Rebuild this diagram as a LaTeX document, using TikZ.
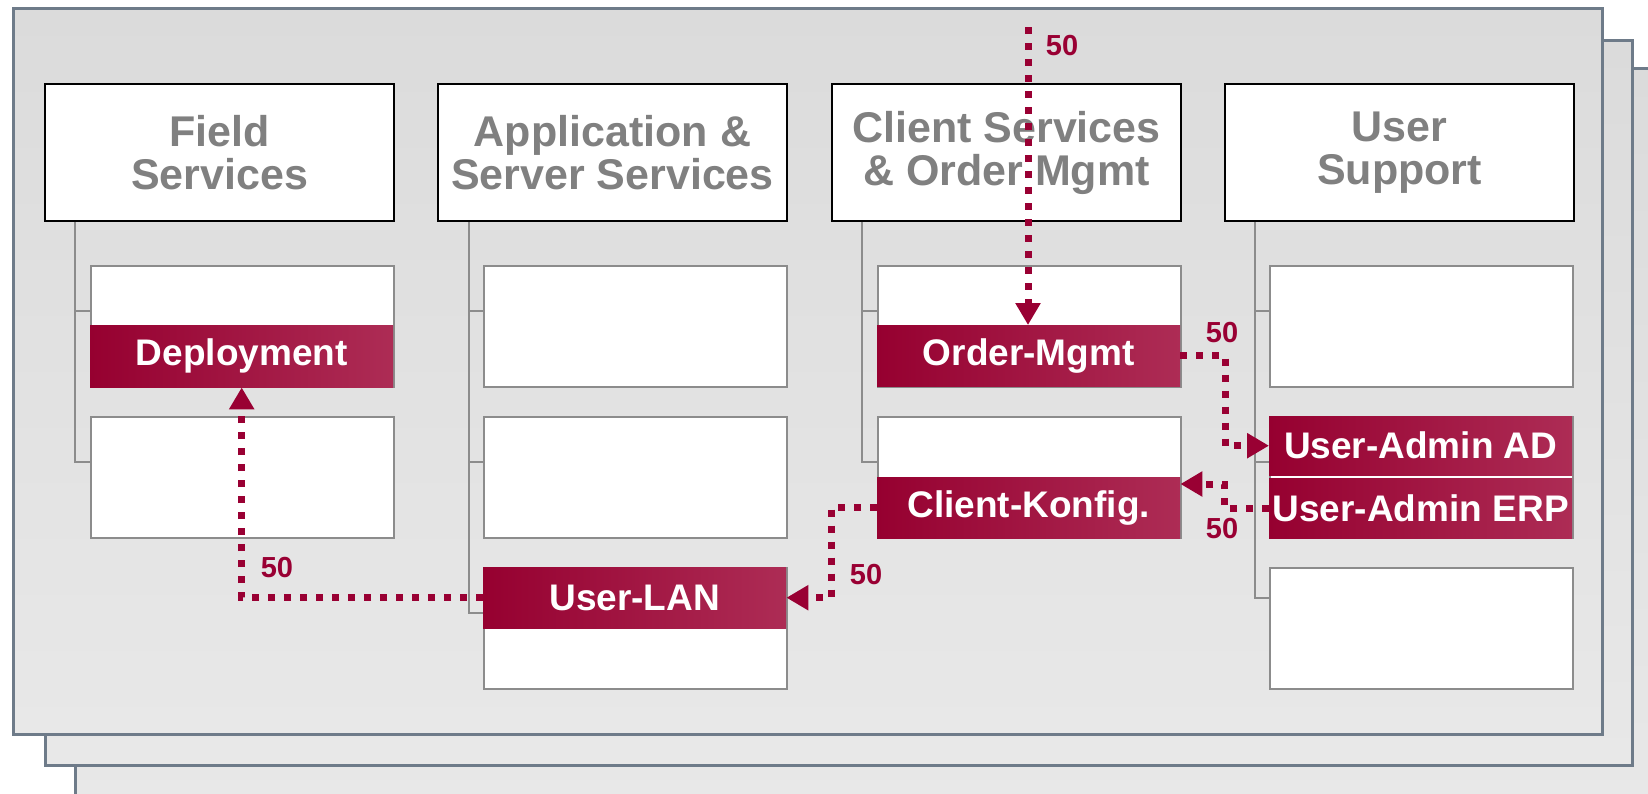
\documentclass[tikz,border=0pt]{standalone}
\usepackage{fontspec}
\setmainfont{Liberation Sans}
\usetikzlibrary{positioning,arrows.meta}
\definecolor{framegray}{HTML}{6E7B89}
\definecolor{fillA}{HTML}{DBDBDB}
\definecolor{fillB}{HTML}{E8E8E8}
\definecolor{headgray}{HTML}{808080}
\definecolor{subgray}{HTML}{8C8C8C}
\definecolor{bandA}{HTML}{960030}
\definecolor{bandB}{HTML}{AD2C55}
\definecolor{dotred}{HTML}{990033}
\newcommand{\headfont}{\fontsize{43}{43}\selectfont\bfseries}
\newcommand{\bandfont}{\fontsize{37}{37}\selectfont\bfseries}

\begin{document}
\begin{tikzpicture}[x=1pt,y=-1pt,
  frame/.style={draw=framegray,line width=3,top color=fillA,bottom color=fillB},
  head/.style={draw=black,line width=2,fill=white,anchor=north west,minimum width=349,minimum height=137,inner sep=0,align=center,text=headgray,font=\headfont},
  sub/.style={draw=subgray,line width=2,fill=white,anchor=north west,minimum width=303,minimum height=121,inner sep=0},
  band/.style={left color=bandA,right color=bandB,anchor=north west,minimum width=303,minimum height=61,inner sep=0,text=white,font=\bandfont},
  tree/.style={draw=subgray,line width=2},
  flow/.style={draw=dotred,line width=7,dash pattern=on 7pt off 9pt,-{Triangle[length=22pt,width=24pt]}},
  num/.style={text=dotred,inner sep=0,font=\fontsize{29}{29}\selectfont\bfseries}]
\useasboundingbox (0,0) rectangle (1648,793);
\draw [frame] (75,68) rectangle (1662,808);
\draw [frame] (45,40) rectangle (1632,765);
\draw [frame] (13,8) rectangle (1602,734);
% headers
\node [head] (fs) at (44,83) {Field\\Services};
\node [head] (as) at (437,83) {Application \&\\Server Services};
\node [head] (cs) at (831,83) {Client Services\\\& Order Mgmt};
\node [head] (us) at (1224,83) {User\\Support};
% sub boxes
\node [sub] (fs1) at (90,265) {};
\node [sub] (fs2) at (90,416) {};
\node [sub] (as1) at (483,265) {};
\node [sub] (as2) at (483,416) {};
\node [sub] (as3) at (483,567) {};
\node [sub] (cs1) at (877,265) {};
\node [sub] (cs2) at (877,416) {};
\node [sub] (us1) at (1269,265) {};
\node [sub] (us2) at (1269,416) {};
\node [sub] (us3) at (1269,567) {};
% tree lines
\draw [tree] ([xshift=31pt]fs.south west) |- ([yshift=-46pt]fs1.north west);
\draw [tree] ([xshift=31pt]fs.south west) |- ([yshift=-46pt]fs2.north west);
\draw [tree] ([xshift=32pt]as.south west) |- ([yshift=-46pt]as1.north west);
\draw [tree] ([xshift=32pt]as.south west) |- ([yshift=-46pt]as2.north west);
\draw [tree] ([xshift=32pt]as.south west) |- ([yshift=-46pt]as3.north west);
\draw [tree] ([xshift=31pt]cs.south west) |- ([yshift=-46pt]cs1.north west);
\draw [tree] ([xshift=31pt]cs.south west) |- ([yshift=-46pt]cs2.north west);
\draw [tree] ([xshift=31pt]us.south west) |- ([yshift=-46pt]us1.north west);
\draw [tree] ([xshift=31pt]us.south west) |- ([yshift=-46pt]us2.north west);
\draw [tree] ([xshift=31pt]us.south west) |- ([yshift=-31pt]us3.north west);
% red bands
\node [band,minimum height=62] (dep) at (90,325) {Deployment};
\node [band] (lan) at (483,567) {User-LAN};
\node [band] (om) at (877,325) {Order-Mgmt};
\node [band] (ck) at (877,477) {Client-Konfig.};
\node [band,minimum height=59] (ad) at (1269,416) {User-Admin AD};
\node [band,minimum height=60] (erp) at (1269,478) {User-Admin ERP};
% connectors
\coordinate (omin) at (1028,27);
\draw [flow] (omin) -- (omin |- om.north);
\draw [flow] (om.east) -- ++(45,0) |- (ad.west);
\draw [flow] (erp.west) -- ++(-45,0) |- ([yshift=-7pt]ck.north east);
\draw [flow] (ck.west) -- ++(-46,0) |- (lan.east);
\draw [flow] (lan.west) -| (dep.south);
\node [num] (n1) at (1062,46) {50};
\node [num] (n2) at (1222,333) {50};
\node [num] (n3) at (1222,529) {50};
\node [num] (n4) at (866,575) {50};
\node [num] (n5) at (277,568) {50};
\end{tikzpicture}
\end{document}
